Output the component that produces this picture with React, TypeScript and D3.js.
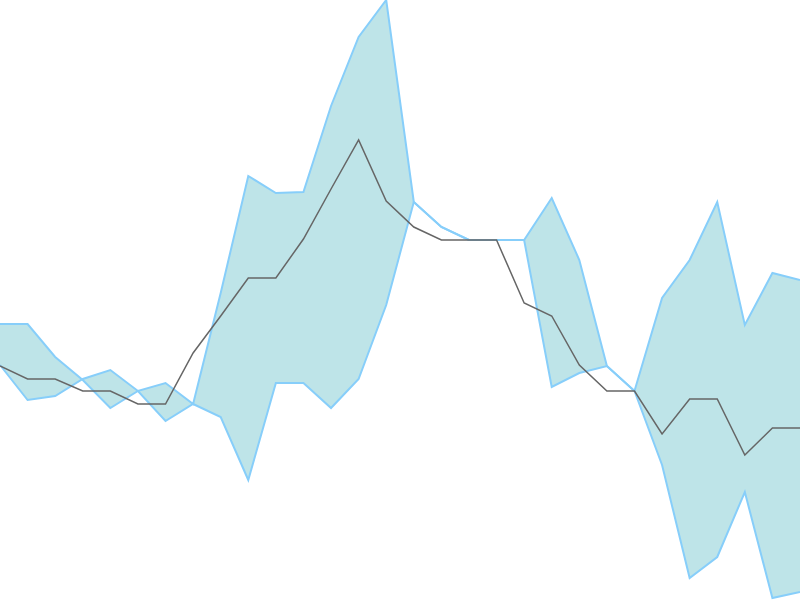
import React from "react";
import * as d3 from "d3";

// Band series (they cross each other)
const seriesA: number[] = [276, 276, 243, 220, 192, 209, 179, 196, 183, 120, 217, 217, 192, 221, 295, 398, 373, 360, 360, 360, 213, 227, 234, 209, 135, 22, 43, 108, 2, 8];
const seriesB: number[] = [235, 200, 204, 221, 230, 209, 217, 196, 307, 424, 407, 408, 494, 563, 600, 398, 373, 360, 360, 360, 402, 340, 234, 209, 302, 340, 398, 275, 327, 320];
// Middle line
const lineValues: number[] = [234, 221, 221, 209, 209, 196, 196, 247, 284, 322, 322, 361, 411, 460, 399, 373, 360, 360, 360, 297, 284, 235, 209, 209, 166, 201, 201, 145, 172, 172];

const W = 800;
const H = 600;

export default function App() {
  const idx = d3.range(lineValues.length);
  const x = d3.scaleLinear().domain([0, idx.length - 1]).range([0, W]);
  const y = d3.scaleLinear().domain([0, 600]).range([H, 0]);

  const area = d3
    .area<number>()
    .x((i) => x(i))
    .y0((i) => y(seriesA[i]))
    .y1((i) => y(seriesB[i]))
    .curve(d3.curveLinear);

  const lineA = d3.line<number>().x((i) => x(i)).y((i) => y(seriesA[i]));
  const lineB = d3.line<number>().x((i) => x(i)).y((i) => y(seriesB[i]));
  const mid = d3.line<number>().x((i) => x(i)).y((i) => y(lineValues[i]));

  return (
    <svg
      width={W}
      height={H}
      style={{ position: "absolute", left: 0, top: 0, display: "block" }}
    >
      <path d={area(idx) || ""} fill="#BEE4E8" stroke="none" />
      <path d={lineA(idx) || ""} fill="none" stroke="#87CEFA" strokeWidth={2} />
      <path d={lineB(idx) || ""} fill="none" stroke="#87CEFA" strokeWidth={2} />
      <path d={mid(idx) || ""} fill="none" stroke="#666666" strokeWidth={1.5} />
    </svg>
  );
}
